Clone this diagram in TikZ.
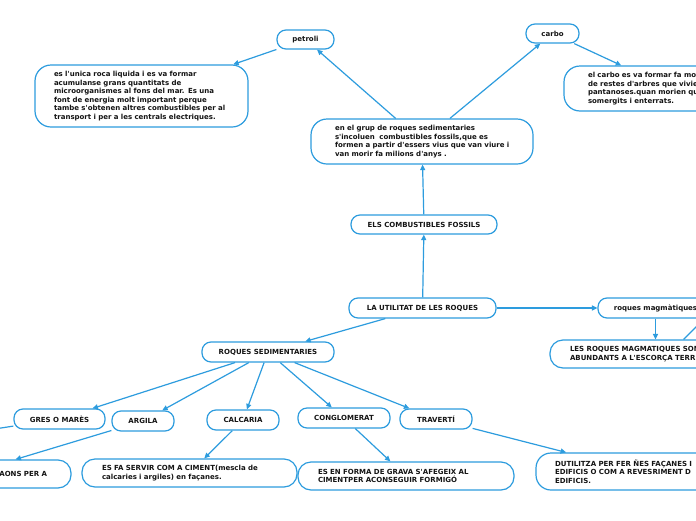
\documentclass[tikz,border=0pt]{standalone}
\usepackage{fontspec}
\newfontfamily\vf{DejaVu Sans}
\usetikzlibrary{arrows.meta}
\definecolor{mblue}{RGB}{45,156,222}
\definecolor{ink}{RGB}{20,20,20}
\newcommand\oneln[1]{\mbox{#1}}
\begin{document}
\begin{tikzpicture}[x=1pt,y=-1pt,
  base/.style={draw=mblue, fill=white, line width=1.2pt, inner sep=0pt, text=ink,
    font=\vf\fontsize{7}{8.6}\selectfont\bfseries},
  pill/.style={base, rounded corners=9pt, align=center},
  para/.style={base, align=left},
  conn/.style={draw=mblue, line width=1.2pt, -{Triangle[length=5.5pt,width=5pt]}},
  plainln/.style={draw=mblue, line width=1.2pt},
]
\useasboundingbox (0,0) rectangle (696,520);
\fill[white] (0,0) rectangle (696,520);

% top part
\node[pill, minimum width=57pt, minimum height=19pt] (petroli) at (305.5,39.5) {petroli};
\node[pill, minimum width=53pt, minimum height=19pt] (carbo) at (552.5,33.5) {carbo};
\node[para, rounded corners=16pt, minimum height=62pt, text width=175pt, inner xsep=19pt] (petdesc) at (141.5,96)
  {\oneln{es l'unica roca liquida i es va formar}\\
   \oneln{acumulanse grans quantitats de}\\
   \oneln{microorganismes al fons del mar. Es una}\\
   \oneln{font de energia molt important perque}\\
   \oneln{tambe s'obtenen altres combustibles per al}\\
   \oneln{transport i per a les centrals electriques.}};
\node[para, rounded corners=16pt, minimum height=45pt, text width=166pt, inner xsep=24pt] (carbodesc) at (671,88.5)
  {\oneln{el carbo es va formar fa mo}\\
   \oneln{de restes d'arbres que vivie}\\
   \oneln{pantanoses.quan morien qu}\\
   \oneln{somergits i enterrats.}};
\node[para, rounded corners=16pt, minimum height=45pt, text width=174pt, inner xsep=24pt] (central) at (422,141.5)
  {\oneln{en el grup de roques sedimentaries}\\
   \oneln{s'incoluen~ combustibles fossils,que es}\\
   \oneln{formen a partir d'essers vius que van viure i}\\
   \oneln{van morir fa milions d'anys .}};
\node[pill, minimum width=146pt, minimum height=19pt] (els) at (424,224.5) {ELS COMBUSTIBLES FOSSILS};

% middle
\node[pill, minimum width=147pt, minimum height=20pt] (lau) at (422.5,308) {LA UTILITAT DE LES ROQUES};
\node[pill, minimum width=115pt, minimum height=20pt] (rmag) at (655.5,308) {roques magmàtiques};
\node[para, rounded corners=13pt, minimum height=28pt, text width=198pt, inner xsep=20pt] (lesroq) at (669,354)
  {\oneln{LES ROQUES MAGMATIQUES SON}\\
   \oneln{ABUNDANTS A L'ESCORÇA TERR}};
\coordinate (lesroqoff) at (723,300);
\node[pill, minimum width=132pt, minimum height=20pt] (rsed) at (268,352) {ROQUES SEDIMENTARIES};

% children
\node[pill, minimum width=91pt, minimum height=20pt] (gres) at (59.5,419) {GRES O MARÈS};
\node[pill, minimum width=62pt, minimum height=20pt] (argila) at (143,421) {ARGILA};
\node[pill, minimum width=72pt, minimum height=20pt] (calc) at (243,420) {CALCARIA};
\node[pill, minimum width=92pt, minimum height=20pt] (cong) at (344,418) {CONGLOMERAT};
\node[pill, minimum width=72pt, minimum height=20pt] (trav) at (436,419) {TRAVERTÍ};
\coordinate (gresoff) at (-40,434.3);

% bottom
\node[para, rounded corners=13pt, minimum height=28pt, text width=160pt, inner xsep=24pt, align=right] (aons) at (-33,474)
  {\oneln{AONS PER A}};
\node[para, rounded corners=13pt, minimum height=28pt, text width=175pt, inner xsep=20pt] (esfa) at (189.5,473)
  {\oneln{ES FA SERVIR COM A CIMENT(mescla de}\\
   \oneln{calcaries i argiles) en façanes.}};
\node[para, rounded corners=13pt, minimum height=28pt, text width=176pt, inner xsep=20pt] (esen) at (406,476)
  {\oneln{ES EN FORMA DE GRAVA S'AFEGEIX AL}\\
   \oneln{CIMENTPER ACONSEGUIR FORMIGÓ}};
\node[para, rounded corners=15pt, minimum height=37pt, text width=171pt, inner xsep=19pt] (dutil) at (640.5,471.5)
  {\oneln{DUTILITZA PER FER ÑES FAÇANES I}\\
   \oneln{EDIFICIS O COM A REVESRIMENT D}\\
   \oneln{EDIFICIS.}};

% connectors
\draw[conn] (lau) -- (els);
\draw[conn] (els) -- (central);
\draw[conn] (central) -- (petroli);
\draw[conn] (central) -- (carbo);
\draw[conn] (petroli) -- (petdesc);
\draw[conn] (carbo) -- (carbodesc);
\draw[conn] (lau) -- (rmag);
\draw[conn] (rmag.south) -- (rmag.south |- lesroq.north);
\draw[plainln] (lesroqoff) -- (lesroq);
\draw[conn] (lau) -- (rsed);
\draw[conn] (rsed) -- (gres);
\draw[conn] (rsed) -- (argila);
\draw[conn] (rsed) -- (calc);
\draw[conn] (rsed) -- (cong);
\draw[conn] (rsed) -- (trav);
\draw[plainln] (gres) -- (gresoff);
\draw[conn] (argila) -- (aons);
\draw[conn] (calc) -- (esfa);
\draw[conn] (cong) -- (esen);
\draw[conn] (trav) -- (dutil);
\end{tikzpicture}
\end{document}
